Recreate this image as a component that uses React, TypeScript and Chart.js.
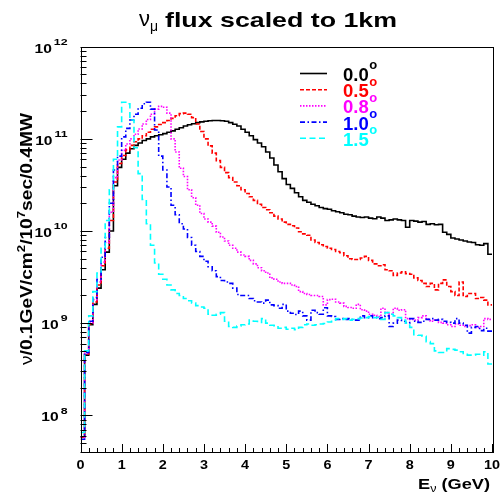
import React, { useEffect, useRef } from 'react';
import { Chart, registerables } from 'chart.js';

Chart.register(...registerables);

// ---------- data ----------
const BIN_COUNT = 100;
const E_MIN = 0;
const E_MAX = 10;
const Y_MIN = 4.0e7;
const Y_MAX = 1e12;

const xTickLabels = ['0', '1', '2', '3', '4', '5', '6', '7', '8', '9', '10'];
const yTickExponents = ['8', '9', '10', '11', '12'];
const legendLabels = ['0.0', '0.5', '0.8', '1.0', '1.5'];

const flux00 = [
  5.8e7, 4.5e8, 9.6e8, 1.6e9, 2.4e9, 3.8e9, 5.9e9, 1.0e10, 3.1e10, 4.9e10,
  6.0e10, 7.0e10, 7.8e10, 8.5e10, 9.0e10, 9.6e10, 1.0e11, 1.05e11, 1.08e11, 1.11e11,
  1.14e11, 1.18e11, 1.22e11, 1.27e11, 1.32e11, 1.38e11, 1.42e11, 1.46e11, 1.5e11, 1.53e11,
  1.55e11, 1.57e11, 1.58e11, 1.58e11, 1.57e11, 1.55e11, 1.5e11, 1.44e11, 1.38e11, 1.27e11,
  1.18e11, 1.08e11, 9.8e10, 9.0e10, 8.2e10, 7.2e10, 6.2e10, 5.2e10, 4.4e10, 3.7e10,
  3.2e10, 2.9e10, 2.6e10, 2.35e10, 2.15e10, 2.05e10, 1.95e10, 1.88e10, 1.8e10, 1.75e10,
  1.72e10, 1.66e10, 1.62e10, 1.58e10, 1.52e10, 1.5e10, 1.45e10, 1.42e10, 1.4e10, 1.42e10,
  1.38e10, 1.36e10, 1.42e10, 1.38e10, 1.3e10, 1.32e10, 1.35e10, 1.32e10, 1.3e10, 1.1e10,
  1.3e10, 1.28e10, 1.25e10, 1.27e10, 1.18e10, 1.2e10, 1.17e10, 1.18e10, 9.7e9, 9.2e9,
  8.4e9, 8.2e9, 8.0e9, 7.8e9, 7.6e9, 7.5e9, 7.1e9, 7.0e9, 7.3e9, 5.6e9,
];

const flux05 = [
  5.8e7, 4.6e8, 9.8e8, 1.7e9, 2.6e9, 4.2e9, 6.5e9, 1.3e10, 3.4e10, 5.4e10,
  6.6e10, 7.6e10, 8.5e10, 9.3e10, 1.0e11, 1.08e11, 1.18e11, 1.27e11, 1.35e11, 1.43e11,
  1.5e11, 1.58e11, 1.67e11, 1.78e11, 1.88e11, 1.9e11, 1.85e11, 1.7e11, 1.45e11, 1.2e11,
  1.0e11, 8.4e10, 7.0e10, 5.8e10, 4.9e10, 4.3e10, 3.8e10, 3.4e10, 3.1e10, 2.8e10,
  2.55e10, 2.35e10, 2.15e10, 1.95e10, 1.8e10, 1.7e10, 1.58e10, 1.45e10, 1.35e10, 1.25e10,
  1.18e10, 1.14e10, 1.08e10, 9.8e9, 9.3e9, 9.0e9, 8.0e9, 7.5e9, 7.1e9, 6.8e9,
  6.5e9, 6.3e9, 6.0e9, 5.8e9, 5.4e9, 5.0e9, 4.9e9, 4.9e9, 5.1e9, 5.3e9,
  4.8e9, 4.4e9, 4.2e9, 4.3e9, 3.8e9, 3.7e9, 3.3e9, 3.5e9, 3.6e9, 3.45e9,
  3.4e9, 3.1e9, 2.9e9, 2.7e9, 2.5e9, 2.7e9, 2.3e9, 2.7e9, 2.95e9, 2.5e9,
  2.2e9, 2.0e9, 2.8e9, 1.95e9, 2.1e9, 2.1e9, 1.85e9, 1.9e9, 1.78e9, 1.58e9,
];

const flux08 = [
  5.8e7, 4.7e8, 1.0e9, 1.8e9, 2.8e9, 4.6e9, 7.5e9, 1.6e10, 3.8e10, 5.9e10,
  7.5e10, 8.8e10, 1.0e11, 1.12e11, 1.28e11, 1.45e11, 1.62e11, 1.85e11, 2.1e11, 2.25e11,
  2.2e11, 1.9e11, 1.0e11, 7.2e10, 4.8e10, 3.9e10, 2.8e10, 2.3e10, 1.9e10, 1.55e10,
  1.35e10, 1.25e10, 1.13e10, 9.7e9, 8.6e9, 7.8e9, 7.0e9, 6.5e9, 5.9e9, 5.5e9,
  5.3e9, 4.8e9, 4.4e9, 4.0e9, 3.7e9, 3.5e9, 3.1e9, 3.0e9, 2.8e9, 2.7e9,
  2.7e9, 2.6e9, 2.5e9, 2.2e9, 2.1e9, 2.05e9, 2.0e9, 2.0e9, 1.95e9, 1.58e9,
  1.8e9, 1.82e9, 1.7e9, 1.65e9, 1.52e9, 1.48e9, 1.45e9, 1.6e9, 1.4e9, 1.35e9,
  1.25e9, 1.22e9, 1.18e9, 1.45e9, 1.3e9, 1.25e9, 1.45e9, 1.38e9, 1.4e9, 1.12e9,
  1.1e9, 1.08e9, 1.15e9, 1.2e9, 1.1e9, 1.05e9, 1.08e9, 1.02e9, 1.0e9, 9.6e8,
  9.2e8, 9.8e8, 9.5e8, 9.2e8, 9.4e8, 9.6e8, 9.0e8, 9.2e8, 1.12e9, 1.1e9,
];

const flux10 = [
  5.5e7, 4.8e8, 1.05e9, 1.9e9, 3.0e9, 5.2e9, 8.5e9, 2.0e10, 4.6e10, 6.5e10,
  1.05e11, 1.3e11, 1.6e11, 1.85e11, 2.15e11, 2.4e11, 2.5e11, 2.1e11, 1.25e11, 6.5e10,
  4.6e10, 3.0e10, 1.9e10, 1.5e10, 1.2e10, 1.05e10, 8.5e9, 7.0e9, 6.0e9, 5.3e9,
  4.7e9, 4.1e9, 3.7e9, 3.2e9, 2.9e9, 2.8e9, 2.7e9, 2.4e9, 2.05e9, 2.0e9,
  2.0e9, 1.85e9, 1.75e9, 1.7e9, 1.65e9, 1.78e9, 1.58e9, 1.55e9, 1.45e9, 1.6e9,
  1.35e9, 1.28e9, 1.24e9, 1.35e9, 1.2e9, 1.08e9, 1.38e9, 1.3e9, 1.25e9, 1.47e9,
  1.2e9, 1.18e9, 1.1e9, 1.12e9, 1.1e9, 1.12e9, 1.08e9, 1.08e9, 1.2e9, 1.15e9,
  1.2e9, 1.15e9, 1.12e9, 1.15e9, 1.2e9, 9.2e8, 1.0e9, 1.08e9, 1.05e9, 1.0e9,
  1.12e9, 1.05e9, 1.02e9, 1.05e9, 1.1e9, 1.12e9, 1.08e9, 1.1e9, 1.05e9, 1.02e9,
  1.0e9, 1.12e9, 1.0e9, 9.5e8, 7.8e8, 9.0e8, 9.2e8, 8.3e8, 8.8e8, 8.2e8,
];

const flux15 = [
  6.5e7, 5.0e8, 1.2e9, 2.2e9, 3.5e9, 6.5e9, 1.3e10, 2.8e10, 6.0e10, 1.35e11,
  2.5e11, 2.4e11, 1.6e11, 8.0e10, 4.2e10, 2.2e10, 1.2e10, 7.0e9, 4.5e9, 3.4e9,
  3.0e9, 2.6e9, 2.3e9, 2.1e9, 2.0e9, 1.85e9, 1.75e9, 1.65e9, 1.55e9, 1.5e9,
  1.45e9, 1.25e9, 1.22e9, 1.25e9, 1.3e9, 1.05e9, 9.2e8, 9.0e8, 9.3e8, 9.6e8,
  9.8e8, 1.08e9, 1.05e9, 1.02e9, 1.12e9, 1.0e9, 9.5e8, 9.4e8, 8.8e8, 9.0e8,
  8.6e8, 8.8e8, 8.5e8, 9.0e8, 9.6e8, 9.8e8, 9.5e8, 9.6e8, 9.8e8, 9.9e8,
  1.03e9, 1.05e9, 1.12e9, 1.1e9, 1.12e9, 1.08e9, 1.1e9, 1.12e9, 1.14e9, 1.15e9,
  1.18e9, 1.15e9, 1.16e9, 1.1e9, 1.3e9, 1.25e9, 1.2e9, 1.15e9, 1.08e9, 1.0e9,
  9.0e8, 7.5e8, 7.4e8, 7.2e8, 6.3e8, 6.0e8, 5.0e8, 4.8e8, 4.8e8, 5.3e8,
  5.2e8, 5.1e8, 4.9e8, 4.7e8, 4.5e8, 4.5e8, 4.6e8, 4.5e8, 4.9e8, 3.6e8,
];

// ---------- styles ----------
const FONT = '"Liberation Sans", Arial, Helvetica, sans-serif';

const seriesDefs = [
  { values: flux00, label: legendLabels[0], color: '#000000', dash: [] as number[], order: 5 },
  { values: flux05, label: legendLabels[1], color: '#ff0000', dash: [4, 2], order: 4 },
  { values: flux08, label: legendLabels[2], color: '#ff00ff', dash: [1.5, 1.5], order: 3 },
  { values: flux10, label: legendLabels[3], color: '#0000ff', dash: [5, 2.5, 1.5, 2.5], order: 2 },
  { values: flux15, label: legendLabels[4], color: '#00ffff', dash: [6, 3.5], order: 1 },
];

type Seg = { t: string; size: number; normal?: boolean; dy?: number; dx?: number };

function segFont(s: Seg) {
  return `${s.normal ? '' : 'bold '}${s.size}px ${FONT}`;
}

function richWidth(ctx: CanvasRenderingContext2D, segs: Seg[]) {
  let w = 0;
  for (const s of segs) {
    ctx.font = segFont(s);
    w += ctx.measureText(s.t).width + (s.dx || 0);
  }
  return w;
}

function drawRich(
  ctx: CanvasRenderingContext2D,
  segs: Seg[],
  x: number,
  y: number,
  opts: { align: 'left' | 'right' | 'center'; sx?: number; width?: number; color: string }
) {
  const natural = richWidth(ctx, segs);
  const sx = opts.width ? opts.width / natural : opts.sx ?? 1;
  const total = natural * sx;
  const start = opts.align === 'left' ? 0 : opts.align === 'right' ? -total : -total / 2;
  ctx.save();
  ctx.translate(x + start, y);
  ctx.scale(sx, 1);
  ctx.fillStyle = opts.color;
  ctx.textAlign = 'left';
  ctx.textBaseline = 'alphabetic';
  let cx = 0;
  for (const s of segs) {
    cx += s.dx || 0;
    ctx.font = segFont(s);
    ctx.fillText(s.t, cx, s.dy || 0);
    cx += ctx.measureText(s.t).width;
  }
  ctx.restore();
}

function crisp(v: number) {
  return Math.round(v) + 0.5;
}

const rootStylePlugin = {
  id: 'rootStyle',
  afterDraw(chart: any) {
    const ctx: CanvasRenderingContext2D = chart.ctx;
    const { left, right, top, bottom } = chart.chartArea;
    const xs = chart.scales.x;
    const ys = chart.scales.y;
    ctx.save();

    // frame
    ctx.strokeStyle = '#000';
    ctx.lineWidth = 1;
    ctx.setLineDash([]);
    ctx.strokeRect(crisp(left), crisp(top), Math.round(right - left), Math.round(bottom - top));

    // x ticks (major at labels, 5 subdivisions)
    ctx.beginPath();
    for (let k = 0; k < xTickLabels.length; k++) {
      const major = Number(xTickLabels[k]);
      for (let m = 0; m < 5; m++) {
        const v = major + m * 0.2;
        if (v > E_MAX + 1e-9) continue;
        const px = crisp(xs.getPixelForValue(v));
        const len = m === 0 ? 8 : 4;
        ctx.moveTo(px, bottom);
        ctx.lineTo(px, bottom - len);
      }
    }
    ctx.stroke();

    // y ticks (log)
    ctx.beginPath();
    for (let e = 7; e <= 12; e++) {
      for (let m = 1; m <= 9; m++) {
        const v = m * Math.pow(10, e);
        if (v < Y_MIN || v > Y_MAX * 1.0001) continue;
        const py = crisp(ys.getPixelForValue(v));
        const len = m === 1 ? 12 : 6;
        ctx.moveTo(left, py);
        ctx.lineTo(left + len, py);
      }
    }
    ctx.stroke();

    // x labels
    for (const lab of xTickLabels) {
      const px = xs.getPixelForValue(Number(lab));
      drawRich(ctx, [{ t: lab, size: 12 }], px, 468.7, { align: 'center', sx: 1.2, color: '#000' });
    }

    // y labels
    for (const ex of yTickExponents) {
      const py = ys.getPixelForValue(Math.pow(10, Number(ex)));
      drawRich(
        ctx,
        [
          { t: '10', size: 12 },
          { t: ex, size: 9.5, dy: -7.7, dx: 1.5 },
        ],
        67.5,
        py + 6,
        { align: 'right', sx: 1.3, color: '#000' }
      );
    }

    // x title
    drawRich(
      ctx,
      [
        { t: 'E', size: 14.5 },
        { t: 'ν', size: 10, normal: true, dy: 3 },
        { t: ' (GeV)', size: 14.5 },
      ],
      490,
      489,
      { align: 'right', width: 72, color: '#000' }
    );

    // y title (rotated)
    ctx.save();
    ctx.translate(32, 365);
    ctx.rotate(-Math.PI / 2);
    drawRich(
      ctx,
      [
        { t: 'ν', size: 16, normal: true },
        { t: '/0.1GeV/cm', size: 16 },
        { t: '2', size: 11, dy: -7 },
        { t: '/10', size: 16 },
        { t: '7', size: 11, dy: -7 },
        { t: 'sec/0.4MW', size: 16 },
      ],
      0,
      0,
      { align: 'left', width: 252, color: '#000' }
    );
    ctx.restore();

    // title
    drawRich(
      ctx,
      [
        { t: 'ν', size: 22, normal: true },
        { t: 'μ', size: 14, normal: true, dy: 5 },
      ],
      139,
      26,
      { align: 'left', sx: 1.0, color: '#000' }
    );
    drawRich(ctx, [{ t: 'flux scaled to 1km', size: 20.5 }], 165, 26.5, {
      align: 'left',
      width: 232,
      color: '#000',
    });

    // legend
    const rowY = [73.5, 89.7, 105.9, 122.1, 138.3];
    seriesDefs.forEach((s, i) => {
      const y = rowY[i];
      ctx.save();
      ctx.strokeStyle = s.color;
      ctx.lineWidth = 1.6;
      ctx.setLineDash(s.dash);
      ctx.beginPath();
      ctx.moveTo(300, y);
      ctx.lineTo(327, y);
      ctx.stroke();
      ctx.restore();
      drawRich(
        ctx,
        [
          { t: s.label, size: 18.5 },
          { t: 'o', size: 13, dy: -11.5, dx: 0.5 },
        ],
        343,
        y + 7.4,
        { align: 'left', sx: 1.0, color: s.color }
      );
    });

    ctx.restore();
  },
};

export default function App() {
  const ref = useRef<HTMLCanvasElement>(null);

  useEffect(() => {
    document.body.style.margin = '0';
    const canvas = ref.current!;
    const binWidth = (E_MAX - E_MIN) / BIN_COUNT;
    const datasets = seriesDefs.map((s) => ({
      label: s.label,
      data: [...s.values, s.values[s.values.length - 1]].map((v, i) => ({
        x: E_MIN + i * binWidth,
        y: v,
      })),
      borderColor: s.color,
      borderWidth: 1.6,
      borderDash: s.dash,
      stepped: 'before' as const,
      pointRadius: 0,
      fill: false,
      order: s.order,
    }));

    const chart = new Chart(canvas, {
      type: 'line',
      data: { datasets },
      options: {
        responsive: false,
        animation: false,
        devicePixelRatio: 1,
        layout: { padding: { left: 80.5, right: 8, top: 46.7, bottom: 45 } },
        scales: {
          x: {
            type: 'linear',
            min: E_MIN,
            max: E_MAX,
            display: false,
          },
          y: {
            type: 'logarithmic',
            min: Y_MIN,
            max: Y_MAX,
            display: false,
          },
        },
        plugins: {
          legend: { display: false },
          title: { display: false },
          tooltip: { enabled: false },
        },
        events: [],
      },
      plugins: [rootStylePlugin],
    });
    return () => chart.destroy();
  }, []);

  return (
    <div style={{ position: 'absolute', left: 0, top: 0, width: 500, height: 497, background: '#fff' }}>
      <canvas ref={ref} width={500} height={497} style={{ display: 'block', width: 500, height: 497 }} />
    </div>
  );
}
